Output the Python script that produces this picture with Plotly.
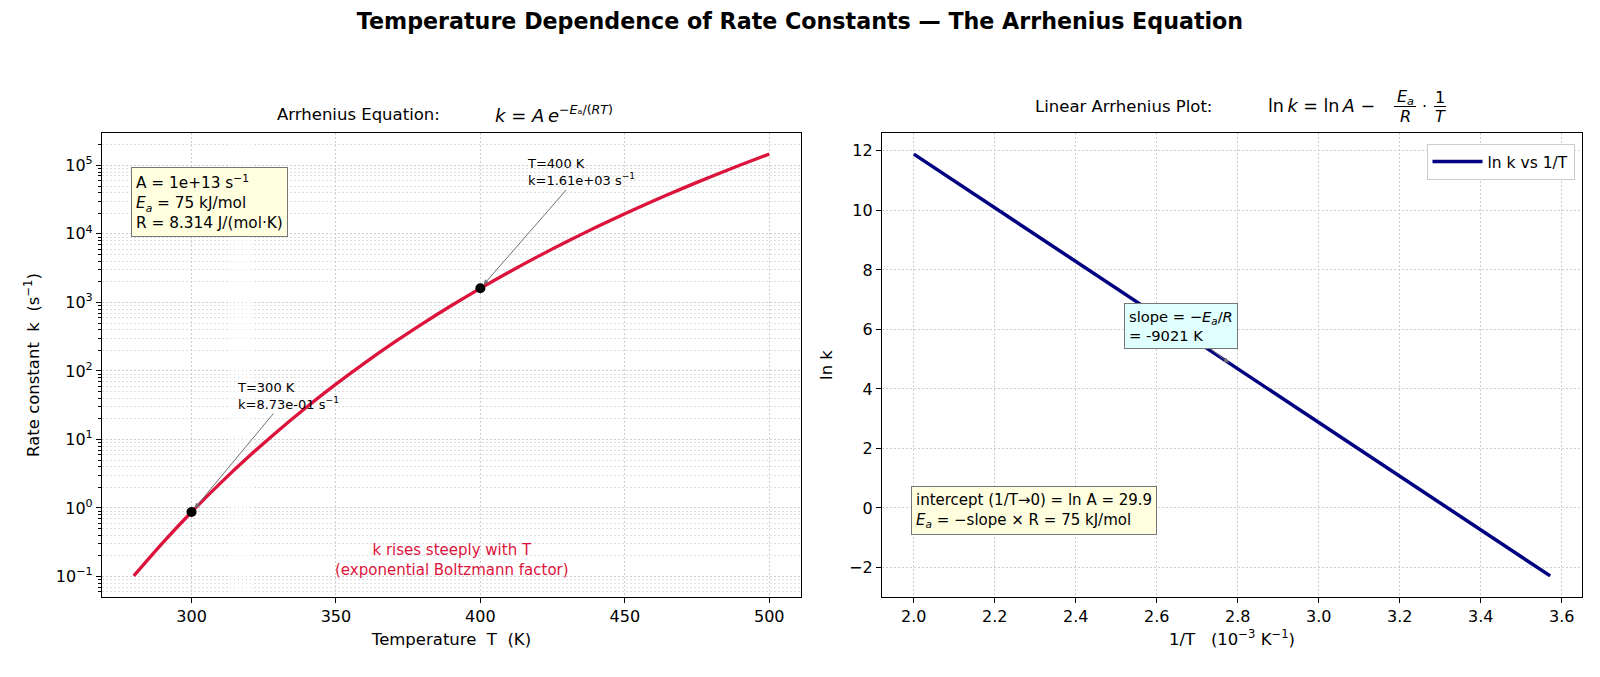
import math
import plotly.graph_objects as go

# ---------------- data ----------------
T_K = [280, 290, 300, 310, 320, 330, 340, 350, 360, 370, 380, 390,
       400, 410, 420, 430, 440, 450, 460, 470, 480, 490, 500]
k_rate = [0.1019, 0.3095, 0.873, 2.303, 5.718, 13.43, 30.02, 64.07, 131.1,
          258.1, 490.2, 901.0, 1606.0, 2783.0, 4700.0, 7745.0, 12480.0,
          19680.0, 30430.0, 46180.0, 68890.0, 101100.0, 146100.0]
inv_T = [3.5714, 3.4483, 3.3333, 3.2258, 3.1250, 3.0303, 2.9412, 2.8571,
         2.7778, 2.7027, 2.6316, 2.5641, 2.5000, 2.4390, 2.3810, 2.3256,
         2.2727, 2.2222, 2.1739, 2.1277, 2.0833, 2.0408, 2.0000]
ln_k = [-2.284, -1.173, -0.136, 0.834, 1.744, 2.598, 3.402, 4.160, 4.876,
        5.553, 6.195, 6.803, 7.382, 7.932, 8.456, 8.955, 9.432, 9.888,
        10.323, 10.741, 11.140, 11.524, 11.892]
marked_T = [300, 400]
marked_k = [0.873, 1606.0]
slope_idx = 8  # point on the line that the slope box points to

left_x_ticks = [300, 350, 400, 450, 500]
left_y_ticks = [0.1, 1, 10, 100, 1000, 10000, 100000]
left_y_ticktext = ["10<sup>−1</sup>", "10<sup>0</sup>", "10<sup>1</sup>", "10<sup>2</sup>",
                   "10<sup>3</sup>", "10<sup>4</sup>", "10<sup>5</sup>"]
right_x_ticks = [2.0, 2.2, 2.4, 2.6, 2.8, 3.0, 3.2, 3.4, 3.6]
right_y_ticks = [-2, 0, 2, 4, 6, 8, 10, 12]

# ---------------- layout helpers ----------------
W, H = 1600, 677
ML, MR, MT, MB = 102, 18, 133, 80
PW, PH = W - ML - MR, H - MT - MB


def px(x):
    return (x - ML) / PW


def py(y):
    return (H - MB - y) / PH


def padded(lo, hi, f=0.05):
    d = (hi - lo) * f
    return [lo - d, hi + d]


FONT = "DejaVu Sans"
lyr = padded(math.log10(min(k_rate)), math.log10(max(k_rate)))
minor_vals = [m * 10 ** e for e in range(-2, 6) for m in range(2, 10)]

fig = go.Figure()
fig.add_trace(go.Scatter(x=T_K, y=k_rate, mode="lines",
                         line=dict(color="#DC143C", width=3.3, shape="spline", smoothing=0.8),
                         xaxis="x", yaxis="y", showlegend=False))
fig.add_trace(go.Scatter(x=marked_T, y=marked_k, mode="markers",
                         marker=dict(color="black", size=10),
                         xaxis="x", yaxis="y", showlegend=False))
fig.add_trace(go.Scatter(x=inv_T, y=ln_k, mode="lines",
                         line=dict(color="#000080", width=3.5),
                         xaxis="x2", yaxis="y2", name="ln k vs 1/T"))

GRID_DASH = "1.5px,2.5px"
ax_common = dict(showline=True, mirror=True, linecolor="black", linewidth=1.2,
                 ticks="outside", ticklen=5, tickwidth=1.1, tickcolor="black",
                 showgrid=True, gridcolor="#cfcfcf", griddash=GRID_DASH, gridwidth=1,
                 zeroline=False, tickfont=dict(size=16, color="black", family=FONT),
                 automargin=False)

fig.update_layout(
    width=W, height=H, template="none",
    margin=dict(l=ML, r=MR, t=MT, b=MB),
    paper_bgcolor="white", plot_bgcolor="white",
    font=dict(family=FONT, color="black"),
    title=dict(text="<b>Temperature Dependence of Rate Constants — The Arrhenius Equation</b>",
               x=0.5, xref="container", y=(H - 21.5) / H, yref="container",
               xanchor="center", yanchor="middle",
               font=dict(size=22.2, family=FONT, color="black")),
    xaxis=dict(domain=[0, px(801)], range=padded(min(T_K), max(T_K)),
               tickvals=left_x_ticks, anchor="y",
               title=dict(text="Temperature\u00a0\u00a0T\u00a0\u00a0(K)", standoff=8,
                          font=dict(size=16.5)), **ax_common),
    yaxis=dict(domain=[0, 1], type="log", range=lyr, anchor="x",
               tickvals=left_y_ticks, ticktext=left_y_ticktext,
               minor=dict(tickmode="array", tickvals=minor_vals, ticks="outside",
                          ticklen=2.5, tickcolor="black", showgrid=True,
                          gridcolor="#dedede", griddash=GRID_DASH, gridwidth=1),
               title=dict(text="Rate constant\u00a0\u00a0k\u00a0\u00a0(s<sup>−1</sup>)", standoff=12,
                          font=dict(size=16.5)), **ax_common),
    xaxis2=dict(domain=[px(882), 1], range=padded(min(inv_T), max(inv_T)),
                tickvals=right_x_ticks, tickformat=".1f", anchor="y2",
                title=dict(text="1/T\u00a0\u00a0\u00a0(10<sup>−3</sup> K<sup>−1</sup>)", standoff=8,
                           font=dict(size=16.5)), **ax_common),
    yaxis2=dict(domain=[0, 1], range=padded(min(ln_k), max(ln_k)), anchor="x2",
                tickvals=right_y_ticks,
                title=dict(text="ln k", standoff=12, font=dict(size=16.5)), **ax_common),
    legend=dict(x=px(1574.5), y=py(144), xanchor="right", yanchor="top",
                bgcolor="white", bordercolor="#cccccc", borderwidth=1,
                itemwidth=50, tracegroupgap=0,
                font=dict(size=15.5, family=FONT, color="black")),
)

ann = []
# subplot titles
ann.append(dict(text="Arrhenius Equation:", xref="paper", yref="paper",
                x=px(441.5), y=py(114), xanchor="right", yanchor="middle",
                showarrow=False, font=dict(size=16.5)))
ann.append(dict(text="<i>k</i>\u00a0=\u00a0<i>A</i>\u2009<i>e</i><sup>−<i>E</i>ₐ/(<i>RT</i>)</sup>",
                xref="paper", yref="paper", x=px(493), y=py(114),
                xanchor="left", yanchor="middle", showarrow=False, font=dict(size=18)))
ann.append(dict(text="Linear Arrhenius Plot:", xref="paper", yref="paper",
                x=px(1214), y=py(106), xanchor="right", yanchor="middle",
                showarrow=False, font=dict(size=16.5)))
ann.append(dict(text="ln\u2009<i>k</i>\u00a0=\u00a0ln\u2009<i>A</i>\u00a0−", xref="paper", yref="paper",
                x=px(1266), y=py(106), xanchor="left", yanchor="middle",
                showarrow=False, font=dict(size=17.5)))
for txt, xc, yc in [("<i>E</i><sub><i>a</i></sub>", 1405, 97.5), ("<i>R</i>", 1405, 116),
                    ("1", 1440, 97.5), ("<i>T</i>", 1440, 116), ("·", 1424, 106)]:
    ann.append(dict(text=txt, xref="paper", yref="paper", x=px(xc), y=py(yc),
                    xanchor="center", yanchor="middle", showarrow=False,
                    font=dict(size=16)))
shapes = [
    dict(type="line", xref="paper", yref="paper", x0=px(1394), x1=px(1416),
         y0=py(106.5), y1=py(106.5), line=dict(color="black", width=1)),
    dict(type="line", xref="paper", yref="paper", x0=px(1434), x1=px(1446),
         y0=py(106.5), y1=py(106.5), line=dict(color="black", width=1)),
]

# marker annotations
for (tx, ty_log), T0, k0 in zip([(333.4, 1.634), (435.0, 4.897)], marked_T, marked_k):
    ann.append(dict(text=f"T={T0} K<br>k={k0:.2e} s<sup>−1</sup>",
                    x=T0, y=math.log10(k0), xref="x", yref="y",
                    ax=tx, ay=ty_log, axref="x", ayref="y", align="left",
                    showarrow=True, arrowhead=2, arrowsize=1, arrowwidth=1,
                    arrowcolor="#707070", standoff=5,
                    font=dict(size=13, color="black")))

# parameter box
ann.append(dict(text="A = 1e+13 s<sup>−1</sup><br><i>E</i><sub><i>a</i></sub> = 75 kJ/mol<br>R = 8.314 J/(mol·K)",
                xref="paper", yref="paper", x=px(130.6), y=py(167.3),
                xanchor="left", yanchor="top", align="left", showarrow=False,
                bgcolor="#FFFFE0", bordercolor="#777777", borderwidth=1, borderpad=4,
                font=dict(size=15.3, color="black")))
# crimson note
ann.append(dict(text="k rises steeply with T<br>(exponential Boltzmann factor)",
                xref="paper", yref="paper", x=px(451.5), y=py(559.5),
                xanchor="center", yanchor="middle", showarrow=False,
                font=dict(size=15, color="#DC143C")))
# slope box
ann.append(dict(text="slope = −<i>E</i><sub><i>a</i></sub>/<i>R</i><br>= -9021 K",
                x=inv_T[slope_idx], y=ln_k[slope_idx], xref="x2", yref="y2",
                ax=2.6597, ay=6.11, axref="x2", ayref="y2", align="left",
                showarrow=True, arrowhead=2, arrowsize=1, arrowwidth=1,
                arrowcolor="#707070", standoff=0,
                bgcolor="#E0FFFF", bordercolor="#777777", borderwidth=1, borderpad=4,
                font=dict(size=14.7, color="black")))
# intercept box
ann.append(dict(text="intercept (1/T→0) = ln A = 29.9<br><i>E</i><sub><i>a</i></sub> = −slope × R = 75 kJ/mol",
                xref="paper", yref="paper", x=px(911), y=py(535),
                xanchor="left", yanchor="bottom", align="left", showarrow=False,
                bgcolor="#FFFFE0", bordercolor="#777777", borderwidth=1, borderpad=4,
                font=dict(size=15, color="black")))

fig.update_layout(annotations=ann, shapes=shapes)
fig.write_html("out.html")
